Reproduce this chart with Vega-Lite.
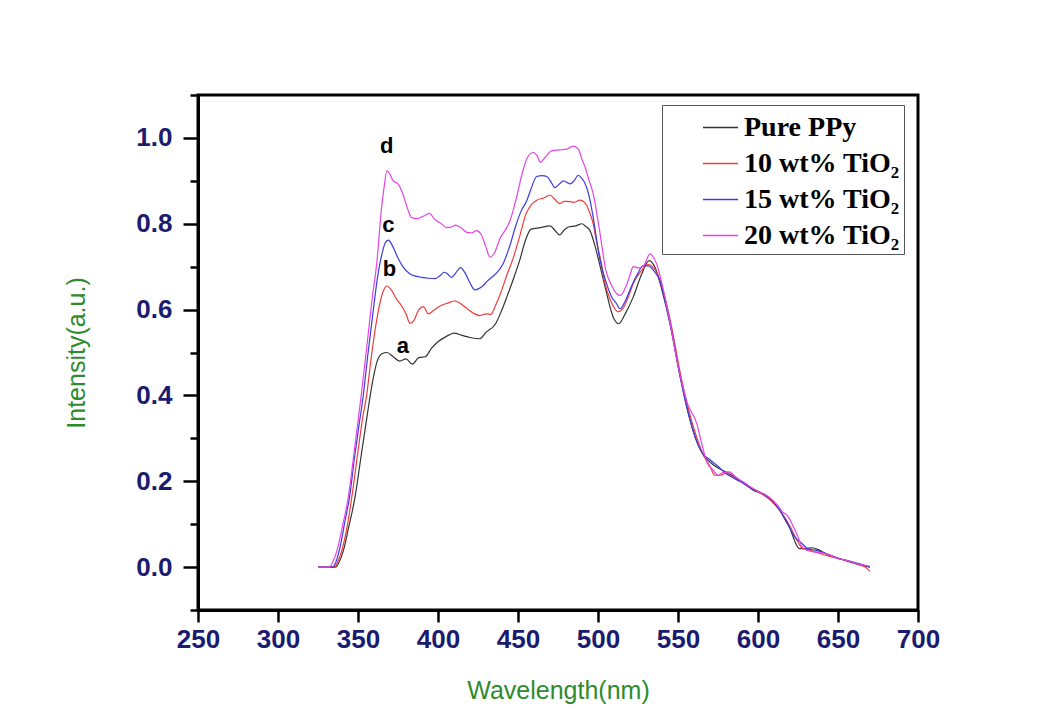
{
"$schema": "https://vega.github.io/schema/vega-lite/v6.json",
"autosize": {"type": "none"},
"width": 720,
"height": 515,
"padding": {"left": 198, "top": 95, "right": 133, "bottom": 112},
"background": "white",
"config": {
  "view": {"stroke": "#000", "strokeWidth": 3},
  "axis": {"grid": false, "domainColor": "#000", "domainWidth": 3, "tickColor": "#000", "tickWidth": 2.5,
    "labelFont": "Liberation Sans", "labelFontWeight": "bold", "labelFontSize": 26, "labelColor": "#1b1b70",
    "labelFlush": false, "labelOverlap": false,
    "titleFont": "Liberation Sans", "titleFontWeight": "normal", "titleFontSize": 25, "titleColor": "#2e8b2e"}
},
"datasets": {
  "spectra": [
{"s":"a","w":325,"i":0},{"s":"a","w":336,"i":0},{"s":"a","w":338,"i":0.01},{"s":"a","w":341,"i":0.04},{"s":"a","w":344,"i":0.09},{"s":"a","w":348,"i":0.16},{"s":"a","w":352,"i":0.26},{"s":"a","w":356,"i":0.36},{"s":"a","w":359,"i":0.43},{"s":"a","w":362,"i":0.48},{"s":"a","w":365,"i":0.497},{"s":"a","w":368,"i":0.5},{"s":"a","w":372,"i":0.49},{"s":"a","w":376,"i":0.48},{"s":"a","w":380,"i":0.485},{"s":"a","w":384,"i":0.473},{"s":"a","w":388,"i":0.488},{"s":"a","w":392,"i":0.49},{"s":"a","w":396,"i":0.51},{"s":"a","w":400,"i":0.525},{"s":"a","w":405,"i":0.537},{"s":"a","w":410,"i":0.545},{"s":"a","w":415,"i":0.54},{"s":"a","w":420,"i":0.535},{"s":"a","w":426,"i":0.532},{"s":"a","w":430,"i":0.547},{"s":"a","w":436,"i":0.567},{"s":"a","w":440,"i":0.6},{"s":"a","w":443,"i":0.629},{"s":"a","w":447,"i":0.67},{"s":"a","w":451,"i":0.714},{"s":"a","w":455,"i":0.765},{"s":"a","w":458,"i":0.787},{"s":"a","w":464,"i":0.791},{"s":"a","w":470,"i":0.795},{"s":"a","w":473,"i":0.785},{"s":"a","w":476,"i":0.774},{"s":"a","w":479,"i":0.786},{"s":"a","w":482,"i":0.793},{"s":"a","w":486,"i":0.795},{"s":"a","w":490,"i":0.8},{"s":"a","w":492,"i":0.795},{"s":"a","w":495,"i":0.784},{"s":"a","w":498,"i":0.75},{"s":"a","w":501,"i":0.706},{"s":"a","w":505,"i":0.644},{"s":"a","w":510,"i":0.578},{"s":"a","w":513,"i":0.567},{"s":"a","w":517,"i":0.59},{"s":"a","w":522,"i":0.629},{"s":"a","w":527,"i":0.68},{"s":"a","w":532,"i":0.714},{"s":"a","w":536,"i":0.695},{"s":"a","w":540,"i":0.645},{"s":"a","w":545,"i":0.567},{"s":"a","w":551,"i":0.45},{"s":"a","w":557,"i":0.35},{"s":"a","w":562,"i":0.29},{"s":"a","w":566,"i":0.26},{"s":"a","w":570,"i":0.245},{"s":"a","w":574,"i":0.233},{"s":"a","w":578,"i":0.225},{"s":"a","w":582,"i":0.218},{"s":"a","w":587,"i":0.206},{"s":"a","w":592,"i":0.195},{"s":"a","w":597,"i":0.179},{"s":"a","w":602,"i":0.172},{"s":"a","w":607,"i":0.16},{"s":"a","w":610,"i":0.148},{"s":"a","w":614,"i":0.13},{"s":"a","w":617,"i":0.11},{"s":"a","w":620,"i":0.09},{"s":"a","w":623,"i":0.06},{"s":"a","w":626,"i":0.043},{"s":"a","w":630,"i":0.043},{"s":"a","w":634,"i":0.045},{"s":"a","w":638,"i":0.04},{"s":"a","w":642,"i":0.032},{"s":"a","w":649,"i":0.022},{"s":"a","w":655,"i":0.015},{"s":"a","w":660,"i":0.009},{"s":"a","w":665,"i":0.004},{"s":"a","w":670,"i":0},
{"s":"b","w":325,"i":0},{"s":"b","w":335,"i":0},{"s":"b","w":337,"i":0.01},{"s":"b","w":340,"i":0.04},{"s":"b","w":343,"i":0.09},{"s":"b","w":346,"i":0.16},{"s":"b","w":350,"i":0.27},{"s":"b","w":353,"i":0.35},{"s":"b","w":355.4,"i":0.4},{"s":"b","w":358,"i":0.48},{"s":"b","w":361,"i":0.56},{"s":"b","w":364,"i":0.62},{"s":"b","w":366,"i":0.645},{"s":"b","w":368,"i":0.655},{"s":"b","w":371,"i":0.645},{"s":"b","w":374,"i":0.625},{"s":"b","w":377,"i":0.61},{"s":"b","w":380,"i":0.59},{"s":"b","w":382.5,"i":0.568},{"s":"b","w":385,"i":0.575},{"s":"b","w":388,"i":0.6},{"s":"b","w":390.8,"i":0.607},{"s":"b","w":394,"i":0.59},{"s":"b","w":397,"i":0.597},{"s":"b","w":401,"i":0.608},{"s":"b","w":406,"i":0.615},{"s":"b","w":410.6,"i":0.62},{"s":"b","w":414,"i":0.614},{"s":"b","w":418,"i":0.603},{"s":"b","w":422,"i":0.592},{"s":"b","w":426,"i":0.586},{"s":"b","w":430,"i":0.59},{"s":"b","w":433,"i":0.589},{"s":"b","w":436,"i":0.61},{"s":"b","w":439,"i":0.637},{"s":"b","w":443,"i":0.68},{"s":"b","w":447,"i":0.72},{"s":"b","w":451,"i":0.77},{"s":"b","w":455,"i":0.823},{"s":"b","w":458,"i":0.843},{"s":"b","w":461.7,"i":0.855},{"s":"b","w":466,"i":0.86},{"s":"b","w":470,"i":0.867},{"s":"b","w":473,"i":0.857},{"s":"b","w":476,"i":0.847},{"s":"b","w":479,"i":0.852},{"s":"b","w":481,"i":0.852},{"s":"b","w":485,"i":0.85},{"s":"b","w":488.7,"i":0.855},{"s":"b","w":492,"i":0.848},{"s":"b","w":494,"i":0.834},{"s":"b","w":497,"i":0.8},{"s":"b","w":499,"i":0.76},{"s":"b","w":502,"i":0.71},{"s":"b","w":504,"i":0.667},{"s":"b","w":508,"i":0.62},{"s":"b","w":512.7,"i":0.595},{"s":"b","w":516,"i":0.605},{"s":"b","w":519,"i":0.63},{"s":"b","w":522,"i":0.66},{"s":"b","w":527,"i":0.69},{"s":"b","w":531.5,"i":0.705},{"s":"b","w":534,"i":0.7},{"s":"b","w":537,"i":0.685},{"s":"b","w":541,"i":0.64},{"s":"b","w":546,"i":0.56},{"s":"b","w":551,"i":0.46},{"s":"b","w":556,"i":0.375},{"s":"b","w":561,"i":0.31},{"s":"b","w":566,"i":0.26},{"s":"b","w":570,"i":0.235},{"s":"b","w":573,"i":0.214},{"s":"b","w":577,"i":0.214},{"s":"b","w":580,"i":0.22},{"s":"b","w":585,"i":0.207},{"s":"b","w":590,"i":0.197},{"s":"b","w":595,"i":0.185},{"s":"b","w":600,"i":0.175},{"s":"b","w":605,"i":0.164},{"s":"b","w":609,"i":0.152},{"s":"b","w":613,"i":0.135},{"s":"b","w":616,"i":0.12},{"s":"b","w":620,"i":0.095},{"s":"b","w":624,"i":0.065},{"s":"b","w":628,"i":0.043},{"s":"b","w":632,"i":0.04},{"s":"b","w":636,"i":0.035},{"s":"b","w":640,"i":0.03},{"s":"b","w":645,"i":0.025},{"s":"b","w":650,"i":0.02},{"s":"b","w":656,"i":0.015},{"s":"b","w":662,"i":0.007},{"s":"b","w":667,"i":0},{"s":"b","w":670,"i":-0.01},
{"s":"c","w":325,"i":0},{"s":"c","w":334,"i":0},{"s":"c","w":336,"i":0.01},{"s":"c","w":339,"i":0.05},{"s":"c","w":342,"i":0.11},{"s":"c","w":344.6,"i":0.16},{"s":"c","w":348,"i":0.26},{"s":"c","w":351,"i":0.34},{"s":"c","w":353.3,"i":0.4},{"s":"c","w":356,"i":0.49},{"s":"c","w":359.6,"i":0.6},{"s":"c","w":362,"i":0.67},{"s":"c","w":365,"i":0.73},{"s":"c","w":367,"i":0.755},{"s":"c","w":369,"i":0.762},{"s":"c","w":372,"i":0.745},{"s":"c","w":375,"i":0.72},{"s":"c","w":378,"i":0.7},{"s":"c","w":382.5,"i":0.683},{"s":"c","w":386,"i":0.678},{"s":"c","w":390,"i":0.675},{"s":"c","w":394,"i":0.673},{"s":"c","w":398,"i":0.672},{"s":"c","w":401,"i":0.678},{"s":"c","w":404,"i":0.687},{"s":"c","w":406,"i":0.683},{"s":"c","w":408.5,"i":0.675},{"s":"c","w":411,"i":0.685},{"s":"c","w":414,"i":0.698},{"s":"c","w":417,"i":0.685},{"s":"c","w":420,"i":0.662},{"s":"c","w":423,"i":0.646},{"s":"c","w":427,"i":0.652},{"s":"c","w":431,"i":0.667},{"s":"c","w":436,"i":0.683},{"s":"c","w":440.6,"i":0.706},{"s":"c","w":445,"i":0.75},{"s":"c","w":449,"i":0.8},{"s":"c","w":452,"i":0.83},{"s":"c","w":455.4,"i":0.853},{"s":"c","w":458,"i":0.88},{"s":"c","w":461.7,"i":0.91},{"s":"c","w":465,"i":0.912},{"s":"c","w":468,"i":0.91},{"s":"c","w":471,"i":0.895},{"s":"c","w":473,"i":0.884},{"s":"c","w":476,"i":0.893},{"s":"c","w":478.3,"i":0.9},{"s":"c","w":482.5,"i":0.893},{"s":"c","w":485,"i":0.9},{"s":"c","w":487.7,"i":0.913},{"s":"c","w":490,"i":0.905},{"s":"c","w":492,"i":0.893},{"s":"c","w":495,"i":0.855},{"s":"c","w":497,"i":0.815},{"s":"c","w":501,"i":0.72},{"s":"c","w":505.4,"i":0.66},{"s":"c","w":508.5,"i":0.63},{"s":"c","w":511.7,"i":0.613},{"s":"c","w":513.7,"i":0.602},{"s":"c","w":517,"i":0.62},{"s":"c","w":521,"i":0.655},{"s":"c","w":525,"i":0.685},{"s":"c","w":528,"i":0.702},{"s":"c","w":531.5,"i":0.702},{"s":"c","w":535,"i":0.69},{"s":"c","w":538.7,"i":0.667},{"s":"c","w":542,"i":0.62},{"s":"c","w":546,"i":0.55},{"s":"c","w":551,"i":0.45},{"s":"c","w":556,"i":0.365},{"s":"c","w":561,"i":0.3},{"s":"c","w":566,"i":0.262},{"s":"c","w":570,"i":0.25},{"s":"c","w":575,"i":0.235},{"s":"c","w":580,"i":0.218},{"s":"c","w":585,"i":0.207},{"s":"c","w":590,"i":0.197},{"s":"c","w":595,"i":0.185},{"s":"c","w":600,"i":0.176},{"s":"c","w":605,"i":0.167},{"s":"c","w":610,"i":0.15},{"s":"c","w":614,"i":0.13},{"s":"c","w":618,"i":0.105},{"s":"c","w":620,"i":0.09},{"s":"c","w":623,"i":0.07},{"s":"c","w":627,"i":0.057},{"s":"c","w":631,"i":0.043},{"s":"c","w":635,"i":0.04},{"s":"c","w":640,"i":0.035},{"s":"c","w":645,"i":0.028},{"s":"c","w":650,"i":0.02},{"s":"c","w":655,"i":0.016},{"s":"c","w":660,"i":0.011},{"s":"c","w":665,"i":0.006},{"s":"c","w":670,"i":0},
{"s":"d","w":325,"i":0},{"s":"d","w":332,"i":0},{"s":"d","w":334,"i":0.01},{"s":"d","w":337,"i":0.04},{"s":"d","w":340,"i":0.09},{"s":"d","w":343.8,"i":0.16},{"s":"d","w":348,"i":0.28},{"s":"d","w":352,"i":0.4},{"s":"d","w":356,"i":0.53},{"s":"d","w":359,"i":0.63},{"s":"d","w":361.7,"i":0.707},{"s":"d","w":364.8,"i":0.84},{"s":"d","w":366.5,"i":0.89},{"s":"d","w":368,"i":0.923},{"s":"d","w":370,"i":0.915},{"s":"d","w":372,"i":0.9},{"s":"d","w":375,"i":0.893},{"s":"d","w":378,"i":0.87},{"s":"d","w":381,"i":0.835},{"s":"d","w":383.5,"i":0.814},{"s":"d","w":387,"i":0.812},{"s":"d","w":391,"i":0.818},{"s":"d","w":394.6,"i":0.824},{"s":"d","w":398,"i":0.81},{"s":"d","w":402,"i":0.8},{"s":"d","w":405.4,"i":0.791},{"s":"d","w":408,"i":0.792},{"s":"d","w":411,"i":0.797},{"s":"d","w":414,"i":0.792},{"s":"d","w":418,"i":0.78},{"s":"d","w":421,"i":0.779},{"s":"d","w":424,"i":0.784},{"s":"d","w":427,"i":0.775},{"s":"d","w":430,"i":0.745},{"s":"d","w":432.5,"i":0.722},{"s":"d","w":435,"i":0.73},{"s":"d","w":439,"i":0.768},{"s":"d","w":443,"i":0.791},{"s":"d","w":445,"i":0.807},{"s":"d","w":449,"i":0.86},{"s":"d","w":453,"i":0.923},{"s":"d","w":456,"i":0.955},{"s":"d","w":459.6,"i":0.966},{"s":"d","w":462,"i":0.958},{"s":"d","w":464,"i":0.943},{"s":"d","w":467,"i":0.955},{"s":"d","w":471,"i":0.97},{"s":"d","w":476,"i":0.972},{"s":"d","w":480.4,"i":0.974},{"s":"d","w":484.6,"i":0.981},{"s":"d","w":487.7,"i":0.974},{"s":"d","w":490,"i":0.95},{"s":"d","w":492,"i":0.931},{"s":"d","w":494.5,"i":0.9},{"s":"d","w":497,"i":0.87},{"s":"d","w":499,"i":0.83},{"s":"d","w":501,"i":0.784},{"s":"d","w":505,"i":0.69},{"s":"d","w":508,"i":0.66},{"s":"d","w":511.7,"i":0.637},{"s":"d","w":514,"i":0.633},{"s":"d","w":517,"i":0.65},{"s":"d","w":520,"i":0.68},{"s":"d","w":522,"i":0.7},{"s":"d","w":526,"i":0.697},{"s":"d","w":529,"i":0.705},{"s":"d","w":532.5,"i":0.73},{"s":"d","w":534,"i":0.725},{"s":"d","w":536.7,"i":0.706},{"s":"d","w":540,"i":0.66},{"s":"d","w":545,"i":0.57},{"s":"d","w":550,"i":0.47},{"s":"d","w":556,"i":0.38},{"s":"d","w":561.7,"i":0.335},{"s":"d","w":565,"i":0.285},{"s":"d","w":568,"i":0.245},{"s":"d","w":572,"i":0.226},{"s":"d","w":575,"i":0.214},{"s":"d","w":578,"i":0.22},{"s":"d","w":582,"i":0.222},{"s":"d","w":586,"i":0.21},{"s":"d","w":590,"i":0.2},{"s":"d","w":595,"i":0.188},{"s":"d","w":600,"i":0.177},{"s":"d","w":605,"i":0.168},{"s":"d","w":608,"i":0.16},{"s":"d","w":612,"i":0.145},{"s":"d","w":615,"i":0.13},{"s":"d","w":619,"i":0.117},{"s":"d","w":622,"i":0.095},{"s":"d","w":625,"i":0.07},{"s":"d","w":627,"i":0.051},{"s":"d","w":630,"i":0.04},{"s":"d","w":634,"i":0.036},{"s":"d","w":639,"i":0.034},{"s":"d","w":645,"i":0.028},{"s":"d","w":650,"i":0.02},{"s":"d","w":656,"i":0.015},{"s":"d","w":660,"i":0.01},{"s":"d","w":665,"i":0.005},{"s":"d","w":670,"i":0.002}
  ],
  "tags": [
    {"w": 368, "i": 0.981, "t": "d"},
    {"w": 369, "i": 0.796, "t": "c"},
    {"w": 369.6, "i": 0.695, "t": "b"},
    {"w": 378, "i": 0.516, "t": "a"}
  ]
},
"layer": [
  {
    "data": {"name": "spectra"},
    "mark": {"type": "line", "strokeWidth": 1.2, "interpolate": "monotone"},
    "encoding": {
      "x": {"field": "w", "type": "quantitative",
        "scale": {"domain": [250, 700], "nice": false, "zero": false},
        "axis": {"title": "Wavelength(nm)",
          "values": [250,275,300,325,350,375,400,425,450,475,500,525,550,575,600,625,650,675,700],
          "labelExpr": "datum.value % 50 === 0 ? datum.label : ''",
          "tickSize": {"condition": {"test": "datum.value % 50 === 0", "value": 12}, "value": 7},
          "labelPadding": 4, "titlePadding": 26}},
      "y": {"field": "i", "type": "quantitative",
        "scale": {"domain": [-0.1, 1.1], "nice": false, "zero": false},
        "axis": {"title": "Intensity(a.u.)",
          "values": [-0.1,0,0.1,0.2,0.3,0.4,0.5,0.6,0.7,0.8,0.9,1.0,1.1],
          "format": ".1f",
          "labelExpr": "abs(round(datum.value*10)) % 2 === 0 ? datum.label : ''",
          "tickSize": {"condition": {"test": "abs(round(datum.value*10)) % 2 === 0", "value": 15}, "value": 8},
          "labelPadding": 11, "titlePadding": 46}},
      "color": {"field": "s", "type": "nominal",
        "scale": {"domain": ["a","b","c","d"], "range": ["#333333","#f03c3c","#3c3ce0","#e444e4"]},
        "legend": {"title": null, "orient": "none", "legendX": 464, "legendY": 10,
          "labelExpr": "datum.label === 'a' ? 'Pure PPy' : datum.label === 'b' ? '10 wt% TiO₂' : datum.label === 'c' ? '15 wt% TiO₂' : '20 wt% TiO₂'",
          "symbolType": "stroke", "symbolSize": 1225, "symbolStrokeWidth": 1.5,
          "symbolOffset": 36, "labelOffset": 5,
          "labelFont": "Liberation Serif", "labelFontWeight": "bold", "labelFontSize": 28, "labelColor": "#000",
          "labelLimit": 400, "rowPadding": 3, "padding": 4,
          "strokeColor": "#555555", "fillColor": "white"}}
    }
  },
  {
    "data": {"name": "tags"},
    "mark": {"type": "text", "font": "Liberation Sans", "fontWeight": "bold", "fontSize": 22, "color": "#000"},
    "encoding": {
      "x": {"field": "w", "type": "quantitative"},
      "y": {"field": "i", "type": "quantitative"},
      "text": {"field": "t"}
    }
  }
]
}
